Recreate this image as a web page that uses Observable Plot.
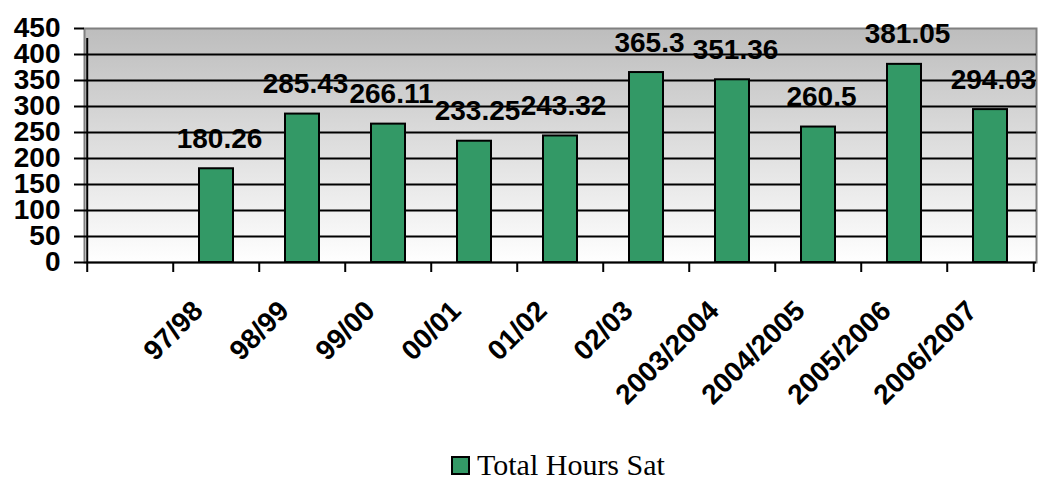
<!DOCTYPE html>
<html>
<head>
<meta charset="utf-8">
<script src="https://cdn.jsdelivr.net/npm/d3@7"></script>
<script src="https://cdn.jsdelivr.net/npm/@observablehq/plot@0.6"></script>
<style>
  html, body { margin: 0; padding: 0; background: #ffffff; overflow: hidden; }
  #chart svg { display: block; font-family: "Liberation Sans", Arial, sans-serif; }
  #legend { height: 26px; display: flex; align-items: flex-start; padding-left: 451px;
            font-family: "Liberation Serif", "Times New Roman", serif; font-size: 30px; line-height: 26px; color: #000; }
  #legend .sw { width: 15px; height: 15px; background: #339966; border: 2px solid #000; margin-right: 7px; margin-top: 5px; }
  #legend .lbl { display: block; margin-top: 1px; }
</style>
</head>
<body>
<div id="chart"></div>
<div id="legend"><span class="sw"></span><span class="lbl">Total Hours Sat</span></div>
<script>
const categories = ["", "97/98", "98/99", "99/00", "00/01", "01/02", "02/03", "2003/2004", "2004/2005", "2005/2006", "2006/2007"];
const values = [null, 180.26, 285.43, 266.11, 233.25, 243.32, 365.3, 351.36, 260.5, 381.05, 294.03];
const yTicks = [0, 50, 100, 150, 200, 250, 300, 350, 400, 450];
const seriesName = "Total Hours Sat";

const data = categories.map((c, i) => ({cat: c, val: values[i]}));

const W = 1039, H = 451;
const mL = 84, mR = 3, mT = 28, mB = H - 262;
const step = (W - mL - mR) / categories.length;

function gradientDefs() {
  const defs = document.createElementNS("http://www.w3.org/2000/svg", "defs");
  defs.innerHTML = '<linearGradient id="bgGrad" x1="0" y1="0" x2="0" y2="1">' +
    '<stop offset="0" stop-color="#bdbdbd"/><stop offset="1" stop-color="#ffffff"/></linearGradient>';
  return defs;
}

const chart = Plot.plot({
  width: W, height: H,
  marginLeft: mL, marginRight: mR, marginTop: mT, marginBottom: mB,
  x: {type: "band", domain: categories, paddingInner: 0.6, paddingOuter: 0.3, axis: null},
  y: {domain: [0, 450], axis: null},
  marks: [
    gradientDefs,
    Plot.frame({fill: "url(#bgGrad)", stroke: "#808080", strokeWidth: 2}),
    Plot.ruleY(yTicks.filter(t => t > 0 && t < 450), {stroke: "#000", strokeWidth: 2}),
    Plot.axisY({ticks: yTicks, tickSize: 10, tickPadding: 14, fontSize: 28, fontWeight: "bold",
                tickFormat: d => String(d), label: null, strokeWidth: 2, stroke: "#000", fill: "#000"}),
    Plot.barY(data, {x: "cat", y: "val", fill: "#339966", stroke: "#000", strokeWidth: 2}),
    Plot.ruleY([0], {stroke: "#000", strokeWidth: 2}),
    Plot.ruleX(categories, {x: d => d, dx: -step / 2, y1: 0, y2: 0, insetBottom: -10, stroke: "#000", strokeWidth: 2}),
    Plot.ruleX(categories.slice(-1), {x: d => d, dx: step / 2, y1: 0, y2: 0, insetBottom: -10, stroke: "#000", strokeWidth: 2}),
    Plot.ruleX(categories.slice(0, 1), {x: d => d, dx: -step / 2, y1: 0, y2: 450, insetBottom: -10, stroke: "#000", strokeWidth: 2}),
    Plot.text(data, {x: "cat", y: "val", text: d => d.val == null ? null : String(d.val),
                     dx: 3, dy: -21, lineAnchor: "bottom", fontSize: 28, fontWeight: "bold", fill: "#000"}),
    Plot.text(data, {x: "cat", text: "cat", frameAnchor: "bottom", dx: -12, dy: 50, rotate: -45,
                     textAnchor: "end", lineAnchor: "bottom", fontSize: 28, fontWeight: "bold", fill: "#000"})
  ]
});
document.getElementById("chart").appendChild(chart);
</script>
</body>
</html>
